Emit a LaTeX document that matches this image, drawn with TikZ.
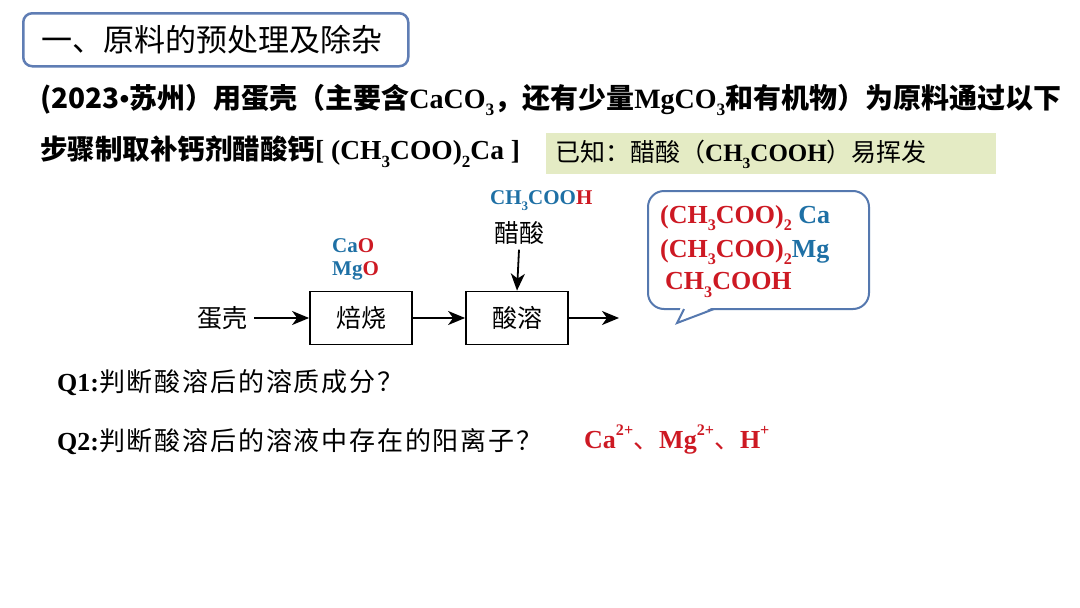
\documentclass[tikz,border=0pt]{standalone}
\usepackage{fontspec}
\usepackage{graphicx}
\setmainfont{Liberation Serif}
\newfontfamily\cjk{Noto Sans CJK SC}
\newfontfamily\cjkwide{Noto Sans CJK SC}[LetterSpace=7]
\usetikzlibrary{arrows.meta}
\definecolor{chblue}{RGB}{30,112,165}
\definecolor{chred}{RGB}{205,25,35}
\definecolor{frameblue}{RGB}{95,125,180}
\definecolor{bubbleblue}{RGB}{85,120,175}
\definecolor{notegreen}{RGB}{228,235,196}
\newcommand\zh[1]{{\cjk #1}}
\newcommand\zhw[1]{{\cjkwide #1}}
\newcommand\dn[1]{\raisebox{-0.28em}{\scalebox{0.62}{#1}}}
\newcommand\up[1]{\raisebox{0.5em}{\scalebox{0.62}{#1}}}
\tikzset{
  txt/.style={inner sep=0pt, anchor=west},
  procbox/.style={draw=black, line width=1.8pt, minimum height=53pt, inner sep=0pt, font=\fontsize{25}{30}\selectfont},
  arr/.style={line width=1.8pt, -{Stealth[length=17pt,width=14pt,inset=5pt]}},
  chem/.style={font=\fontsize{21}{25}\selectfont\bfseries, inner sep=0pt}
}
\begin{document}
\begin{tikzpicture}[x=1pt,y=-1pt]
\useasboundingbox[fill=white] (0,0) rectangle (1080,608);
% title
\node[draw=frameblue, line width=2.5pt, rounded corners=9pt, minimum width=385pt, minimum height=53pt, anchor=north west] (titlebox) at (22,12) {};
\node[txt, font=\fontsize{31}{36}\selectfont] (title) at (41,40) {\zh{一、原料的预处理及除杂}};
% problem text
\node[txt, font=\fontsize{28}{32}\selectfont\bfseries] (line1) at (40,100) {\zh{(2023}•\zh{苏州）用蛋壳（主要含}CaCO\dn{3}\zh{，还有少量}MgCO\dn{3}\zh{和有机物）为原料通过以下}};
\node[txt, font=\fontsize{27.5}{32}\selectfont\bfseries] (line2) at (40,152) {\zh{步骤制取补钙剂醋酸钙}[~(CH\dn{3}COO)\dn{2}Ca~]};
% note
\node[fill=notegreen, minimum width=450pt, minimum height=41pt, anchor=north west, inner sep=0pt] (notebox) at (546,133) {};
\node[txt, font=\fontsize{25}{30}\selectfont] (note) at (555,154) {\zh{已知：醋酸（}\textbf{CH\dn{3}COOH}\zh{）易挥发}};
% flow
\node[inner sep=0pt, font=\fontsize{25}{30}\selectfont] (egg) at (222,318) {\zh{蛋壳}};
\node[procbox, minimum width=102pt] (roast) at (361,318) {\zh{焙烧}};
\node[procbox, minimum width=102pt] (dissolve) at (517,318) {\zh{酸溶}};
\coordinate (out) at (619,318);
\node[inner sep=0pt, font=\fontsize{25}{30}\selectfont] (acid) at (519,233) {\zh{醋酸}};
\node[chem, anchor=west] (acidf) at (490,201) {\color{chblue}CH\dn{3}COO\color{chred}H};
\node[chem, anchor=west] (cao) at (332,246) {\color{chblue}Ca\color{chred}O};
\node[chem, anchor=west] (mgo) at (332,271) {\color{chblue}Mg\color{chred}O};
\draw[arr] ([xshift=7pt]egg.east) -- (roast.west);
\draw[arr] (roast.east) -- (dissolve.west);
\draw[arr] (dissolve.east) -- (out);
\draw[arr] ([yshift=-5pt]acid.south) -- (dissolve.north);
% bubble
\node[draw=bubbleblue, line width=2pt, rounded corners=16pt, minimum width=221pt, minimum height=118pt, anchor=north west, fill=white] (bubble) at (647,190) {};
\fill[white] (681,305.5) -- (717,305.5) -- (677,323) -- cycle;
\coordinate (tailL) at (684,309);
\coordinate (tailT) at (677,323);
\coordinate (tailR) at (714,309);
\draw[bubbleblue, line width=2pt, line join=miter] (tailL) -- (tailT) -- (tailR);
\node[txt, font=\fontsize{26}{30}\selectfont\bfseries] (p1) at (660,218) {\color{chred}(CH\dn{3}COO)\dn{2} \color{chblue}Ca};
\node[txt, font=\fontsize{26}{30}\selectfont\bfseries] (p2) at (660,252) {\color{chred}(CH\dn{3}COO)\dn{2}\color{chblue}Mg};
\node[txt, font=\fontsize{26}{30}\selectfont\bfseries] (p3) at (665,285) {\color{chred}CH\dn{3}COOH};
% questions
\node[txt, font=\fontsize{26}{30}\selectfont] (q1) at (57,383) {\textbf{Q1:}\zhw{判断酸溶后的溶质成分？}};
\node[txt, font=\fontsize{26}{30}\selectfont] (q2) at (57,442) {\textbf{Q2:}\zhw{判断酸溶后的溶液中存在的阳离子？}};
\node[txt, font=\fontsize{26}{30}\selectfont\bfseries, text=chred] (ans) at (584,440) {Ca\up{2+}\zh{\mdseries 、}Mg\up{2+}\zh{\mdseries 、}H\up{+}};
\end{tikzpicture}
\end{document}
